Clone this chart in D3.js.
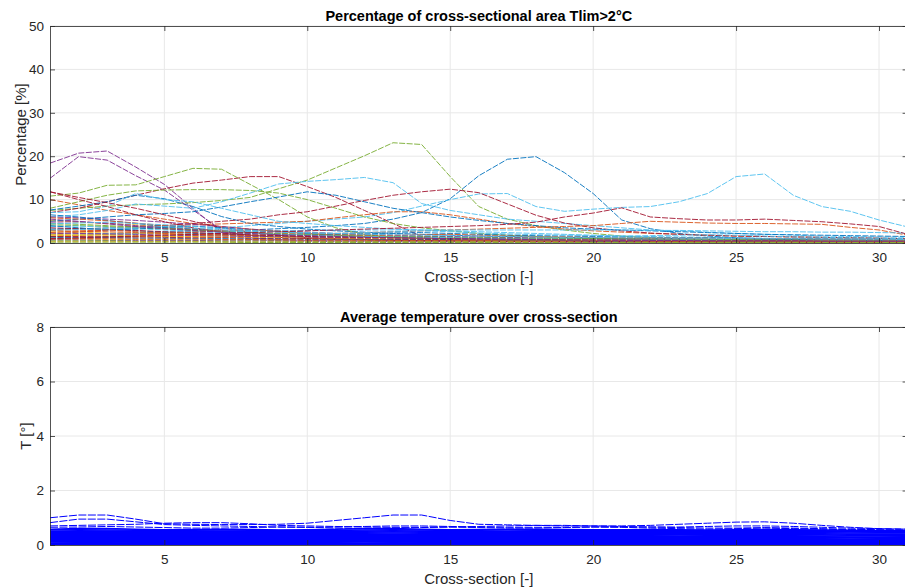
<!DOCTYPE html>
<html>
<head>
<meta charset="utf-8">
<script src="https://cdn.jsdelivr.net/npm/d3@7"></script>
<style>
body { margin: 0; background: #fff; }
text { font-family: "Liberation Sans", Arial, sans-serif; fill: #262626; }
</style>
</head>
<body>
<svg id="fig" width="905" height="587"></svg>
<script>
// cross-section numbers (x axis)
const crossSections = [1,2,3,4,5,6,7,8,9,10,11,12,13,14,15,16,17,18,19,20,21,22,23,24,25,26,27,28,29,30,31];

const pctTicks = [0, 10, 20, 30, 40, 50];
const tempTicks = [0, 2, 4, 6, 8];
const xTicks = [5, 10, 15, 20, 25, 30];

// percentage of area above Tlim, one row per run (colour follows the matlab order)
const pctRuns = [
  // cycle 0
  [1.5,1.8,2,2.2,2.4,2.6,2.8,3,3.3,3.6,4,4.5,5.5,7,10.2,15.5,19.3,19.9,16.2,11.4,5.3,3.3,2.2,1.6,1.2,1,0.8,0.7,0.6,0.5,0.5],
  [10,8.8,7.5,6.5,5.5,4.5,3.8,3.2,2.6,2.2,1.8,1.5,1.3,1.1,1,0.9,0.8,0.7,0.6,0.6,0.5,0.5,0.5,0.4,0.4,0.4,0.4,0.3,0.3,0.3,0.3],
  [5.2,4.8,4.5,4.2,3.6,3,2.6,2.2,1.9,1.7,1.5,1.4,1.3,1.2,1.1,1,0.9,0.9,0.8,0.8,0.7,0.7,0.7,0.6,0.6,0.6,0.5,0.5,0.5,0.5,0.4],
  [18.4,20.7,21.2,17.5,13.5,8,2.5,0.8,0.5,0.4,0.3,0.3,0.3,0.2,0.2,0.2,0.2,0.2,0.2,0.1,0.1,0.1,0.1,0.1,0.1,0.1,0.1,0.1,0.1,0.1,0.1],
  [7.5,8,8.5,8.8,9,9.3,9.8,10.5,12.5,14.5,17.3,20.1,23.1,22.7,15.3,8.4,5.5,4,3,2.2,1.6,1.2,1,0.8,0.7,0.6,0.5,0.5,0.4,0.4,0.3],
  [1,1.2,1.5,2,2.5,3,3.5,4,4.5,5,5.5,6,7,8.5,10,11.3,11.4,8.4,7.3,7.8,8.2,8.4,9.5,11.4,15.3,15.9,11,8.4,7.3,5.3,3.7],
  [7,8,9.5,11,12.5,13.8,14.5,15.3,15.3,13,10.5,7.5,4.5,1.5,0.8,0.6,0.5,0.5,0.4,0.4,0.4,0.3,0.3,0.3,0.3,0.3,0.3,0.2,0.2,0.2,0.2],
  // cycle 1
  [7.6,8.5,9.5,11,10.2,8.4,6.1,4.5,3.8,3.2,2.8,2.5,2.2,2,1.8,1.6,1.5,1.4,1.3,1.2,1.1,1,1,0.9,0.9,0.8,0.8,0.7,0.7,0.6,0.6],
  [3,3.2,3.5,3.8,4,4.2,4.4,4.6,4.8,5,5.8,6.5,7.2,7.2,6.5,5.5,4.5,3.8,3.2,2.8,2.5,2.2,2,1.8,1.6,1.5,1.4,1.3,1.2,1.1,1],
  [1.6,1.8,2,2.2,2.1,1.9,1.8,1.7,1.9,2.1,2,1.8,1.6,1.5,1.4,1.3,1.2,1.1,1.1,1,1,0.9,0.9,0.9,0.8,0.8,0.8,0.7,0.7,0.7,0.7],
  [14.9,19.9,19.1,15.5,12.2,7.6,3,1.2,0.8,0.6,0.5,0.5,0.4,0.4,0.3,0.3,0.3,0.3,0.2,0.2,0.2,0.2,0.2,0.2,0.2,0.2,0.2,0.2,0.2,0.2,0.2],
  [10.8,11.5,13.3,13.4,15.3,17.2,17,13.5,10,6,3.5,2,1.2,1,0.8,0.7,0.6,0.5,0.5,0.4,0.4,0.4,0.3,0.3,0.3,0.3,0.3,0.3,0.3,0.2,0.2],
  [6,6.5,7.5,9,8.5,8,9.5,11.5,13.6,14.2,14.6,15.1,13.9,9.1,7.5,6.5,5.5,5,4.5,4,3.5,3,2.8,2.5,2.2,2,1.8,1.6,1.5,1.4,1.3],
  [2,2.5,3,3.5,4,4.5,5,5.5,6.5,7.2,8.5,9.8,11,11.8,12.4,11.6,9,6.4,4.6,3.5,2.8,2.3,2,1.8,1.6,1.5,1.4,1.3,1.2,1.1,1],
  // cycle 2
  [5,5.5,6,6.5,6.8,7.2,8.3,9.5,10.6,11.8,11,9.5,8,7,6,5.2,4.5,4,3.5,3.2,3,2.8,2.6,2.4,2.2,2,1.9,1.8,1.7,1.6,1.5],
  [0.8,1,1.2,1.4,1.5,1.6,1.7,1.8,1.9,2,2.2,2.4,2.6,2.8,3,3.2,3.4,3.6,3.8,4,4.5,5,4.8,4.6,4.5,4.5,4.4,4.3,3.6,3,1.8],
  [0.9,0.9,0.8,0.8,0.8,0.7,0.7,0.7,0.6,0.6,0.6,0.6,0.5,0.5,0.5,0.5,0.5,0.4,0.4,0.4,0.4,0.4,0.4,0.3,0.3,0.3,0.3,0.3,0.3,0.3,0.3],
  [6,5.8,5.5,5.2,4.8,4.3,3.8,3.2,2.8,2.5,2.2,2,1.8,1.6,1.5,1.4,1.3,1.2,1.1,1,1,0.9,0.9,0.8,0.8,0.8,0.7,0.7,0.7,0.6,0.6],
  [8,9.5,11,12,12.2,12.3,12.3,12.1,11.5,10,8,6,4.5,3.5,2.8,2.2,1.8,1.5,1.2,1,0.9,0.8,0.7,0.6,0.5,0.5,0.4,0.4,0.4,0.3,0.3],
  [7,7.2,8.5,11.4,10,9.5,8,6.5,5,4.5,4,3.6,3.2,3,2.8,2.6,2.4,2.2,2,1.8,1.6,1.5,1.4,1.3,1.2,1.1,1,1,0.9,0.9,0.8],
  [11.8,10.5,9.3,8,6.5,5,3.5,2.5,1.8,1.2,1,0.8,0.7,0.6,0.5,0.5,0.4,0.4,0.4,0.3,0.3,0.3,0.3,0.3,0.2,0.2,0.2,0.2,0.2,0.2,0.2],
  // cycle 3
  [6.5,6,5.2,4.5,3.8,3.2,2.8,2.4,2.1,1.9,1.7,1.6,1.5,1.4,1.3,1.2,1.1,1,1,0.9,0.9,0.8,0.8,0.8,0.7,0.7,0.7,0.6,0.6,0.6,0.6],
  [5.8,5.5,5.1,4.6,4,3.4,2.9,2.5,2.2,2,1.8,1.6,1.4,1.3,1.2,1.1,1,0.9,0.8,0.8,0.7,0.7,0.6,0.6,0.6,0.5,0.5,0.5,0.5,0.4,0.4],
  [2.6,2.5,2.3,2.2,2,1.9,1.7,1.6,1.5,1.4,1.3,1.2,1.1,1.1,1,1,0.9,0.9,0.8,0.8,0.8,0.7,0.7,0.7,0.7,0.6,0.6,0.6,0.6,0.5,0.5],
  [4.8,4.9,4.6,4,3.5,3.1,2.7,2.3,2,1.8,1.6,1.4,1.3,1.2,1.1,1,0.9,0.8,0.8,0.7,0.7,0.6,0.6,0.6,0.5,0.5,0.5,0.5,0.4,0.4,0.4],
  [4.5,4.3,4,3.7,3.4,3,2.7,2.4,2.1,1.9,1.7,1.5,1.4,1.3,1.2,1.1,1,0.9,0.9,0.8,0.8,0.7,0.7,0.7,0.6,0.6,0.6,0.5,0.5,0.5,0.5],
  [2,2.1,2.2,2.3,2.4,2.5,2.6,2.7,2.8,2.9,3,3,3,3,3,3,3,3,3,3,3,2.9,2.9,2.8,2.7,2.6,2.6,2.5,2.5,2.4,2.3],
  [11.8,10,8.4,6.5,4.9,3.5,2.5,1.8,1.3,1,0.8,0.7,0.6,0.5,0.5,0.4,0.4,0.4,0.3,0.3,0.3,0.3,0.3,0.2,0.2,0.2,0.2,0.2,0.2,0.2,0.2],
  // cycle 4
  [3.2,3.4,3.2,2.8,2.5,2.2,2,1.8,1.6,1.5,1.4,1.3,1.2,1.1,1.1,1,1,0.9,0.9,0.9,0.8,0.8,0.8,0.7,0.7,0.7,0.7,0.6,0.6,0.6,0.6],
  [2.9,2.7,2.6,2.4,2.2,2,1.9,1.7,1.6,1.5,1.4,1.3,1.2,1.1,1,1,0.9,0.9,0.8,0.8,0.8,0.7,0.7,0.7,0.6,0.6,0.6,0.6,0.5,0.5,0.5],
  [2,1.9,1.8,1.7,1.6,1.5,1.4,1.3,1.2,1.2,1.1,1,1,0.9,0.9,0.8,0.8,0.8,0.7,0.7,0.7,0.6,0.6,0.6,0.6,0.5,0.5,0.5,0.5,0.5,0.4],
  [2.3,2.2,2.1,2,1.8,1.7,1.6,1.5,1.4,1.3,1.2,1.1,1.1,1,1,0.9,0.9,0.8,0.8,0.8,0.7,0.7,0.7,0.6,0.6,0.6,0.6,0.5,0.5,0.5,0.5],
  [4.2,4,3.8,3.5,3.2,2.9,2.6,2.3,2.1,1.9,1.7,1.6,1.5,1.4,1.3,1.2,1.1,1.1,1,1,0.9,0.9,0.8,0.8,0.8,0.7,0.7,0.7,0.6,0.6,0.6],
  [3.8,3.9,3.6,3.3,3,2.7,2.4,2.2,2,1.8,1.6,1.5,1.4,1.3,1.2,1.1,1,0.9,0.9,0.8,0.8,0.7,0.7,0.7,0.6,0.6,0.6,0.6,0.5,0.5,0.5],
  [3.5,3.3,3.1,2.9,2.6,2.4,2.1,1.9,1.7,1.5,1.4,1.3,1.2,1.1,1,0.9,0.9,0.8,0.8,0.7,0.7,0.6,0.6,0.6,0.5,0.5,0.5,0.5,0.4,0.4,0.4],
  // cycle 5
  [4,3.5,3,3.2,3.6,3.9,3.5,3,2.6,2.2,2,2.1,2.3,2.4,2.2,2,1.8,1.7,1.6,1.5,1.4,1.3,1.2,1.2,1.1,1,1,0.9,0.9,0.9,0.8],
  [2.4,2.8,3,2.6,2.3,2.5,2.8,3,2.7,2.4,2.1,1.9,1.8,1.9,2,1.8,1.6,1.5,1.4,1.3,1.2,1.2,1.1,1.1,1,1,1,0.9,0.9,0.9,0.8],
  [1.8,1.7,1.6,1.5,1.5,1.4,1.3,1.2,1.2,1.1,1,1,0.9,0.9,0.8,0.8,0.8,0.7,0.7,0.7,0.6,0.6,0.6,0.6,0.5,0.5,0.5,0.5,0.5,0.4,0.4],
  [0.7,0.7,0.6,0.6,0.6,0.6,0.5,0.5,0.5,0.5,0.5,0.4,0.4,0.4,0.4,0.4,0.4,0.3,0.3,0.3,0.3,0.3,0.3,0.3,0.3,0.2,0.2,0.2,0.2,0.2,0.2],
  [0.5,0.5,0.5,0.4,0.4,0.4,0.4,0.4,0.4,0.3,0.3,0.3,0.3,0.3,0.3,0.3,0.3,0.2,0.2,0.2,0.2,0.2,0.2,0.2,0.2,0.2,0.2,0.2,0.2,0.2,0.1],
  [3,3.1,3.3,3.5,3.8,3.4,3,2.7,2.5,2.3,2.2,2.4,2.6,2.8,2.6,2.3,2.1,1.9,1.8,1.7,1.6,1.7,1.8,1.9,1.8,1.6,1.4,1.3,1.2,1.1,1],
  [1.5,1.5,1.4,1.4,1.3,1.2,1.2,1.1,1,1,0.9,0.9,0.8,0.8,0.8,0.7,0.7,0.7,0.6,0.6,0.6,0.6,0.5,0.5,0.5,0.5,0.5,0.4,0.4,0.4,0.4],
  // cycle 6
  [1.3,1.2,1.2,1.1,1.1,1,1,0.9,0.9,0.8,0.8,0.8,0.7,0.7,0.7,0.6,0.6,0.6,0.6,0.5,0.5,0.5,0.5,0.5,0.4,0.4,0.4,0.4,0.4,0.4,0.3],
  [1.1,1,1,0.9,0.9,0.9,0.8,0.8,0.8,0.7,0.7,0.7,0.6,0.6,0.6,0.6,0.5,0.5,0.5,0.5,0.5,0.4,0.4,0.4,0.4,0.4,0.4,0.3,0.3,0.3,0.3],
  [0.3,0.3,0.3,0.3,0.3,0.3,0.2,0.2,0.2,0.2,0.2,0.2,0.2,0.2,0.2,0.2,0.2,0.2,0.2,0.1,0.1,0.1,0.1,0.1,0.1,0.1,0.1,0.1,0.1,0.1,0.1],
  [5.5,5,4.4,3.8,3.3,2.9,2.5,2.2,1.9,1.7,1.5,1.3,1.2,1.1,1,0.9,0.8,0.8,0.7,0.7,0.6,0.6,0.6,0.5,0.5,0.5,0.5,0.4,0.4,0.4,0.4],
  [0.2,0.2,0.2,0.2,0.2,0.2,0.2,0.1,0.1,0.1,0.1,0.1,0.1,0.1,0.1,0.1,0.1,0.1,0.1,0.1,0.1,0.1,0.1,0.1,0.1,0.1,0.1,0.1,0.1,0.1,0.1],
  [4.4,4.6,4.8,4.5,4.2,3.8,3.3,2.9,2.6,2.4,2.2,2,1.9,1.8,1.7,1.6,1.5,1.4,1.3,1.3,1.2,1.2,1.1,1.1,1,1,1,0.9,0.9,0.9,0.8],
  [1,1.2,1.4,1.6,1.8,2,2.2,2.4,2.6,2.8,3,3.2,3.4,3.6,3.8,4,4.3,4.8,6,6.9,8.1,6,5.6,5.3,5.3,5.5,5.2,4.9,4.4,3.8,2]
];

// average temperature over the cross-section, one row per run
const tempRuns = [
  [1,1.1,1.1,0.95,0.78,0.76,0.75,0.75,0.76,0.8,0.9,1,1.1,1.1,0.9,0.76,0.74,0.72,0.7,0.7,0.7,0.72,0.76,0.8,0.84,0.85,0.8,0.72,0.65,0.6,0.58],
  [0.82,0.95,0.95,0.85,0.75,0.72,0.7,0.68,0.66,0.65,0.66,0.68,0.7,0.7,0.68,0.66,0.65,0.65,0.65,0.66,0.66,0.66,0.66,0.68,0.7,0.7,0.68,0.65,0.62,0.6,0.58],
  [0.7,0.72,0.74,0.76,0.8,0.82,0.82,0.78,0.72,0.7,0.68,0.66,0.65,0.65,0.66,0.68,0.7,0.72,0.72,0.7,0.68,0.66,0.64,0.62,0.62,0.64,0.62,0.6,0.58,0.56,0.55],
  [0.65,0.66,0.68,0.66,0.64,0.62,0.62,0.64,0.66,0.65,0.62,0.6,0.62,0.64,0.66,0.64,0.62,0.62,0.64,0.66,0.65,0.62,0.6,0.58,0.6,0.62,0.6,0.58,0.56,0.55,0.54],
  [0.58,0.6,0.6,0.58,0.56,0.57,0.58,0.57,0.55,0.56,0.58,0.6,0.6,0.58,0.56,0.57,0.58,0.58,0.57,0.56,0.56,0.57,0.56,0.55,0.56,0.57,0.56,0.55,0.54,0.53,0.52],
  [0.55,0.56,0.55,0.54,0.53,0.54,0.55,0.54,0.53,0.52,0.53,0.55,0.56,0.55,0.53,0.54,0.55,0.54,0.53,0.53,0.54,0.53,0.52,0.52,0.53,0.54,0.53,0.52,0.51,0.5,0.5],
  [0.5,0.52,0.51,0.5,0.49,0.5,0.51,0.5,0.49,0.48,0.5,0.51,0.52,0.51,0.5,0.49,0.5,0.51,0.5,0.49,0.5,0.49,0.48,0.49,0.5,0.5,0.49,0.48,0.48,0.47,0.47],
  [0.46,0.47,0.47,0.46,0.45,0.46,0.47,0.46,0.45,0.45,0.46,0.47,0.48,0.47,0.46,0.45,0.46,0.47,0.46,0.45,0.46,0.45,0.45,0.45,0.46,0.46,0.45,0.45,0.44,0.44,0.44],
  [0.42,0.43,0.43,0.42,0.41,0.42,0.43,0.42,0.41,0.41,0.42,0.43,0.44,0.43,0.42,0.41,0.42,0.43,0.42,0.41,0.42,0.41,0.41,0.41,0.42,0.42,0.41,0.41,0.4,0.4,0.4],
  [0.38,0.39,0.39,0.38,0.37,0.38,0.39,0.38,0.37,0.37,0.38,0.39,0.4,0.39,0.38,0.37,0.38,0.39,0.38,0.37,0.38,0.37,0.37,0.37,0.38,0.38,0.37,0.37,0.36,0.36,0.36],
  [0.34,0.35,0.36,0.36,0.35,0.34,0.34,0.35,0.35,0.34,0.34,0.35,0.36,0.36,0.35,0.34,0.34,0.35,0.35,0.34,0.34,0.34,0.33,0.34,0.35,0.35,0.34,0.33,0.33,0.33,0.32],
  [0.31,0.31,0.32,0.31,0.3,0.3,0.31,0.31,0.3,0.3,0.31,0.32,0.32,0.31,0.3,0.3,0.31,0.31,0.3,0.3,0.3,0.3,0.3,0.3,0.31,0.31,0.3,0.3,0.29,0.29,0.29],
  [0.27,0.28,0.28,0.27,0.27,0.26,0.27,0.27,0.27,0.26,0.27,0.28,0.28,0.28,0.27,0.26,0.27,0.27,0.27,0.26,0.26,0.26,0.26,0.27,0.27,0.27,0.26,0.26,0.26,0.25,0.25],
  [0.24,0.24,0.25,0.24,0.23,0.23,0.24,0.24,0.23,0.23,0.24,0.24,0.25,0.24,0.24,0.23,0.23,0.24,0.24,0.23,0.23,0.23,0.23,0.23,0.24,0.24,0.23,0.23,0.22,0.22,0.22],
  [0.21,0.21,0.21,0.2,0.2,0.2,0.2,0.21,0.2,0.2,0.2,0.21,0.21,0.21,0.2,0.2,0.2,0.2,0.2,0.2,0.2,0.19,0.19,0.2,0.2,0.2,0.2,0.19,0.19,0.19,0.19],
  [0.17,0.18,0.18,0.17,0.17,0.17,0.17,0.17,0.17,0.16,0.17,0.17,0.18,0.17,0.17,0.17,0.17,0.17,0.16,0.16,0.16,0.16,0.16,0.16,0.17,0.17,0.16,0.16,0.16,0.16,0.15],
  [0.14,0.14,0.14,0.14,0.13,0.13,0.14,0.14,0.13,0.13,0.14,0.14,0.14,0.14,0.14,0.13,0.13,0.14,0.13,0.13,0.13,0.13,0.13,0.13,0.13,0.14,0.13,0.13,0.13,0.12,0.12],
  [0.11,0.11,0.11,0.1,0.1,0.1,0.1,0.1,0.1,0.1,0.1,0.11,0.11,0.1,0.1,0.1,0.1,0.1,0.1,0.1,0.1,0.1,0.1,0.1,0.1,0.1,0.1,0.1,0.09,0.09,0.09],
  [0.07,0.08,0.08,0.07,0.07,0.07,0.07,0.07,0.07,0.07,0.07,0.07,0.08,0.07,0.07,0.07,0.07,0.07,0.07,0.07,0.07,0.07,0.07,0.07,0.07,0.07,0.07,0.07,0.06,0.06,0.06],
  [0.04,0.05,0.05,0.04,0.04,0.04,0.04,0.04,0.04,0.04,0.04,0.04,0.05,0.04,0.04,0.04,0.04,0.04,0.04,0.04,0.04,0.04,0.04,0.04,0.04,0.04,0.04,0.04,0.04,0.04,0.03],
  [0.02,0.02,0.02,0.02,0.02,0.02,0.02,0.02,0.02,0.02,0.02,0.02,0.02,0.02,0.02,0.02,0.02,0.02,0.02,0.02,0.02,0.02,0.02,0.02,0.02,0.02,0.02,0.02,0.02,0.02,0.02]
];

const matlabColors = ['#0072BD','#D95319','#EDB120','#7E2F8E','#77AC30','#4DBEEE','#A2142F'];
const axColor = '#262626';

const svg = d3.select('#fig');
const left = 50, right = 907.6;

const x = d3.scaleLinear().domain([1, 31]).range([left, right]);

function panel(id, top, bottom, yMax, yTicks, runs, colorOf, dashOf, widthOf, title, ylabel, ylabelX) {
    const y = d3.scaleLinear().domain([0, yMax]).range([bottom, top]);
    const g = svg.append('g').attr('id', id);

    g.append('clipPath').attr('id', id + '-clip')
        .append('rect').attr('x', left).attr('y', top)
        .attr('width', right - left).attr('height', bottom - top);

    // grid
    const grid = g.append('g').attr('class', 'grid');
    grid.selectAll('.gx').data(xTicks).join('line')
        .attr('x1', d => x(d)).attr('x2', d => x(d))
        .attr('y1', top).attr('y2', bottom)
        .attr('stroke', '#e8e8e8').attr('stroke-width', 1);
    grid.selectAll('.gy').data(yTicks).join('line')
        .attr('x1', left).attr('x2', right)
        .attr('y1', d => y(d)).attr('y2', d => y(d))
        .attr('stroke', '#e8e8e8').attr('stroke-width', 1);

    const line = d3.line().x((d, i) => x(crossSections[i])).y(d => y(d));

    g.append('g').attr('clip-path', `url(#${id}-clip)`)
        .selectAll('path').data(runs).join('path')
        .attr('d', line)
        .attr('fill', 'none')
        .attr('stroke', (d, i) => colorOf(i))
        .attr('stroke-width', (d, i) => widthOf(i))
        .attr('stroke-dasharray', (d, i) => dashOf(i));

    // axes, ticks pointing inwards like matlab
    const axB = g.append('g').attr('transform', `translate(0,${bottom})`)
        .call(d3.axisBottom(x).tickValues(xTicks).tickSize(-5).tickPadding(9).tickSizeOuter(0));
    const axT = g.append('g').attr('transform', `translate(0,${top})`)
        .call(d3.axisTop(x).tickValues(xTicks).tickSize(-5).tickFormat('').tickSizeOuter(0));
    const axL = g.append('g').attr('transform', `translate(${left},0)`)
        .call(d3.axisLeft(y).tickValues(yTicks).tickSize(-5).tickPadding(6).tickSizeOuter(0));
    const axR = g.append('g').attr('transform', `translate(${right},0)`)
        .call(d3.axisRight(y).tickValues(yTicks).tickSize(-5).tickFormat('').tickSizeOuter(0));

    [axB, axT, axL, axR].forEach(a => {
        a.select('.domain').attr('stroke', axColor).attr('stroke-width', 0.8);
        a.selectAll('.tick line').attr('stroke', axColor).attr('stroke-width', 0.8);
        a.selectAll('.tick text').attr('font-size', 13.5).attr('fill', axColor)
            .attr('font-family', '"Liberation Sans", Arial, sans-serif');
    });

    g.append('text')
        .attr('x', (left + right) / 2).attr('y', top - 5)
        .attr('text-anchor', 'middle')
        .attr('font-size', 14.5).attr('font-weight', 'bold')
        .style('fill', '#000')
        .text(title);

    g.append('text')
        .attr('x', (left + right) / 2).attr('y', bottom + 38.5)
        .attr('text-anchor', 'middle')
        .attr('font-size', 15)
        .text('Cross-section [-]');

    g.append('text')
        .attr('transform', `translate(${ylabelX},${(top + bottom) / 2}) rotate(-90)`)
        .attr('text-anchor', 'middle')
        .attr('font-size', 15)
        .text(ylabel);
}

panel('pct', 26, 243, 50, pctTicks, pctRuns,
    i => matlabColors[i % 7], i => '6,1.5', i => 0.9,
    'Percentage of cross-sectional area Tlim>2°C', 'Percentage [%]', 26);
panel('temp', 327, 545, 8, tempTicks, tempRuns,
    i => '#0000FF', i => (i < 4 ? '8,1.5' : null), i => (i < 4 ? 1 : 1.6),
    'Average temperature over cross-section', 'T [°]', 31);
</script>
</body>
</html>
